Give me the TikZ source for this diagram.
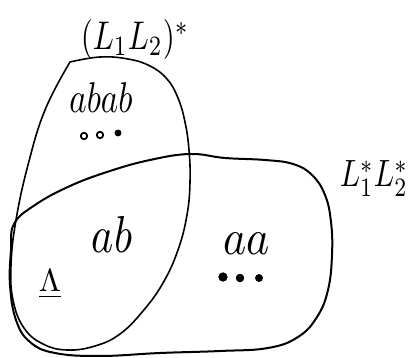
\documentclass[tikz,border=0pt]{standalone}
\begin{document}
\begin{tikzpicture}[x=1pt,y=-1pt,
  region/.style={line width=1.6pt,line cap=round,line join=round},
  lbl/.style={inner sep=0pt,anchor=base},
  dotf/.style={fill=black,draw=black,line width=0.8pt},
  doto/.style={fill=white,draw=black,line width=1.8pt}]
\useasboundingbox (0,0) rectangle (408,358);

% the language (L1L2)^*
\draw[region] plot[smooth,tension=0.7] coordinates {
  (70,62) (100,57) (128,59) (150,66) (167,79) (178,98) (185,122) (189,150)
  (190,182) (187,215) (178,250) (163,283) (143,311) (120,334) (95,346)
  (67,350) (43,344) (24,328) (13,300) (11,265) (16,220) (28,165) (45,110) (70,62)};

% the language L1^* L2^*
\draw[region,line width=2pt] plot[smooth cycle,tension=0.7] coordinates {
  (14,224) (35,205) (70,186) (110,171) (150,160) (190,154) (225,158) (265,160)
  (293,164) (312,175) (325,195) (331,222) (332,255) (328,290) (317,317)
  (298,337) (268,348) (220,351) (160,353) (100,356) (55,353) (30,342)
  (16,320) (10,285) (11,250)};

% set names
\node[lbl,xscale=3.1,yscale=4.0] (n1) at (135,50) {$(L_1L_2)^*$};
\node[lbl,xscale=3.0,yscale=3.8] (n2) at (374,187) {$L_1^*L_2^*$};

% strings
\node[lbl,xscale=3.3,yscale=4.3] (s1) at (101,113) {$abab$};
\node[lbl,xscale=4.2,yscale=5.2] (s2) at (112,253) {$ab$};
\node[lbl,xscale=4.4,yscale=5.0] (s3) at (247,255) {$aa$};
\node[lbl,scale=3.2] (s4) at (50,292) {$\underline{\Lambda}$};

% ellipses
\draw[doto] (84,136) circle (3.2);
\draw[doto] (100,135) circle (3.2);
\draw[dotf] (118,133) circle (3);
\draw[dotf] (223,277) circle (4.2);
\draw[dotf] (240,278) circle (3.8);
\draw[dotf] (259,278) circle (3.5);
\end{tikzpicture}
\end{document}
